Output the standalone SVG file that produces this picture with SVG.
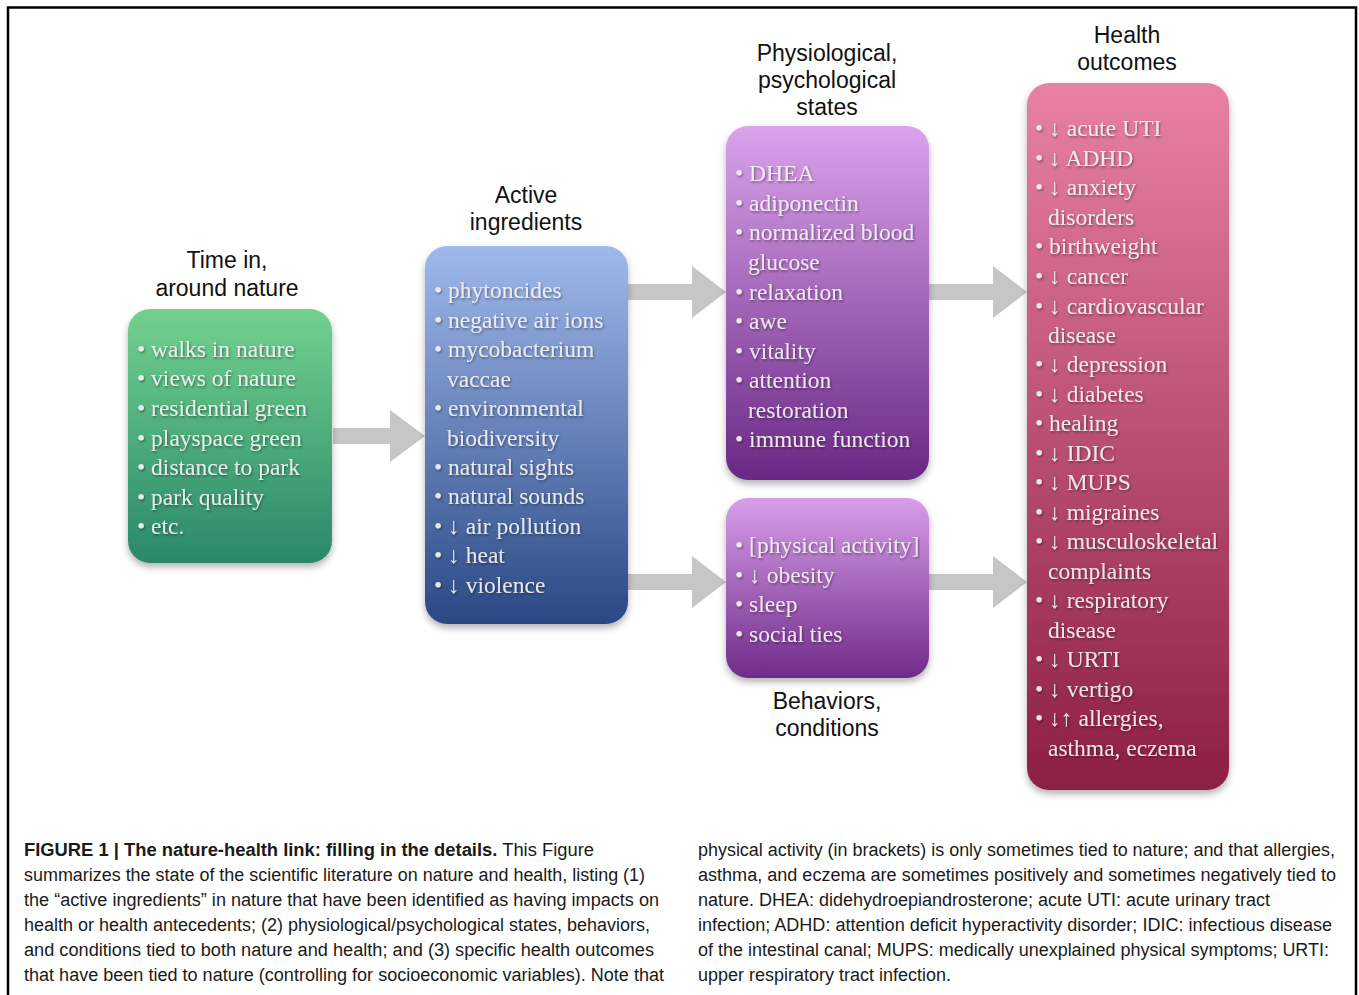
<svg xmlns="http://www.w3.org/2000/svg" width="1359" height="995" viewBox="0 0 1359 995">
<style>
.title{font-family:"Liberation Sans",Arial,sans-serif;font-size:23px;fill:#111;text-anchor:middle}
.item{font-family:"Liberation Serif","Times New Roman",serif;font-size:23.5px;fill:#f4f2f4;fill-opacity:0.92;filter:url(#ts)}
.cap{font-family:"Liberation Sans",Arial,sans-serif;font-size:18px;fill:#1a1a1a}
.arrow{fill:#c6c6c6}
</style>
<defs>
<filter id="bs" x="-20%" y="-20%" width="140%" height="140%">
<feDropShadow dx="0" dy="4" stdDeviation="3.5" flood-color="#000" flood-opacity="0.3"/>
</filter>
<filter id="ts" x="-10%" y="-30%" width="120%" height="160%">
<feDropShadow dx="1" dy="1.5" stdDeviation="1" flood-color="#000" flood-opacity="0.45"/>
</filter>
<linearGradient id="gGreen" x1="0" y1="0" x2="0" y2="1">
<stop offset="0" stop-color="#72d18f"/><stop offset="1" stop-color="#2a8869"/>
</linearGradient>
<linearGradient id="gBlue" x1="0" y1="0" x2="0" y2="1">
<stop offset="0" stop-color="#a0b9ec"/><stop offset="1" stop-color="#2a4984"/>
</linearGradient>
<linearGradient id="gPurple" x1="0" y1="0" x2="0" y2="1">
<stop offset="0" stop-color="#daa3ec"/><stop offset="1" stop-color="#6a2884"/>
</linearGradient>
<linearGradient id="gPurple2" x1="0" y1="0" x2="0" y2="1">
<stop offset="0" stop-color="#d89ee9"/><stop offset="1" stop-color="#702b89"/>
</linearGradient>
<linearGradient id="gPink" x1="0" y1="0" x2="0" y2="1">
<stop offset="0" stop-color="#e881a2"/><stop offset="1" stop-color="#8c1f41"/>
</linearGradient>
</defs>
<rect width="1359" height="995" fill="#fff"/>
<path d="M8,995 V7.5 H1356 V995" fill="none" stroke="#000" stroke-width="2.5"/>

<g id="connectors">
<polygon class="arrow" points="333,428 390,428 390,410 425,436 390,462 390,444 333,444"/>
<polygon class="arrow" points="628,284 692,284 692,266 726,292 692,318 692,300 628,300"/>
<polygon class="arrow" points="628,574 692,574 692,556 726,582 692,608 692,590 628,590"/>
<polygon class="arrow" points="929,284 993,284 993,266 1027,292 993,318 993,300 929,300"/>
<polygon class="arrow" points="929,574 993,574 993,556 1027,582 993,608 993,590 929,590"/>
</g>

<g id="time-in-nature">
<text class="title" x="227" y="268">Time in,</text>
<text class="title" x="227" y="296">around nature</text>
<rect x="128" y="309" width="204" height="254" rx="22" fill="url(#gGreen)" filter="url(#bs)"/>
<text class="item" x="137" y="357">• walks in nature</text>
<text class="item" x="137" y="386">• views of nature</text>
<text class="item" x="137" y="416">• residential green</text>
<text class="item" x="137" y="446">• playspace green</text>
<text class="item" x="137" y="475">• distance to park</text>
<text class="item" x="137" y="505">• park quality</text>
<text class="item" x="137" y="534">• etc.</text>
</g>

<g id="active-ingredients">
<text class="title" x="526" y="203">Active</text>
<text class="title" x="526" y="230">ingredients</text>
<rect x="425" y="246" width="203" height="378" rx="22" fill="url(#gBlue)" filter="url(#bs)"/>
<text class="item" x="434" y="298">• phytoncides</text>
<text class="item" x="434" y="328">• negative air ions</text>
<text class="item" x="434" y="357">• mycobacterium</text>
<text class="item" x="447" y="387">vaccae</text>
<text class="item" x="434" y="416">• environmental</text>
<text class="item" x="447" y="446">biodiversity</text>
<text class="item" x="434" y="475">• natural sights</text>
<text class="item" x="434" y="504">• natural sounds</text>
<text class="item" x="434" y="534">• ↓ air pollution</text>
<text class="item" x="434" y="563">• ↓ heat</text>
<text class="item" x="434" y="593">• ↓ violence</text>
</g>

<g id="physiological-states">
<text class="title" x="827" y="61">Physiological,</text>
<text class="title" x="827" y="88">psychological</text>
<text class="title" x="827" y="115">states</text>
<rect x="726" y="126" width="203" height="354" rx="22" fill="url(#gPurple)" filter="url(#bs)"/>
<text class="item" x="735" y="181">• DHEA</text>
<text class="item" x="735" y="211">• adiponectin</text>
<text class="item" x="735" y="240">• normalized blood</text>
<text class="item" x="748" y="270">glucose</text>
<text class="item" x="735" y="300">• relaxation</text>
<text class="item" x="735" y="329">• awe</text>
<text class="item" x="735" y="359">• vitality</text>
<text class="item" x="735" y="388">• attention</text>
<text class="item" x="748" y="418">restoration</text>
<text class="item" x="735" y="447">• immune function</text>
</g>

<g id="behaviors-conditions">
<rect x="726" y="498" width="203" height="180" rx="22" fill="url(#gPurple2)" filter="url(#bs)"/>
<text class="item" x="735" y="553">• [physical activity]</text>
<text class="item" x="735" y="583">• ↓ obesity</text>
<text class="item" x="735" y="612">• sleep</text>
<text class="item" x="735" y="642">• social ties</text>
<text class="title" x="827" y="709">Behaviors,</text>
<text class="title" x="827" y="736">conditions</text>
</g>

<g id="health-outcomes">
<text class="title" x="1127" y="43">Health</text>
<text class="title" x="1127" y="70">outcomes</text>
<rect x="1027" y="83" width="202" height="707" rx="22" fill="url(#gPink)" filter="url(#bs)"/>
<text class="item" x="1035" y="136">• ↓ acute UTI</text>
<text class="item" x="1035" y="166">• ↓ ADHD</text>
<text class="item" x="1035" y="195">• ↓ anxiety</text>
<text class="item" x="1048" y="225">disorders</text>
<text class="item" x="1035" y="254">• birthweight</text>
<text class="item" x="1035" y="284">• ↓ cancer</text>
<text class="item" x="1035" y="314">• ↓ cardiovascular</text>
<text class="item" x="1048" y="343">disease</text>
<text class="item" x="1035" y="372">• ↓ depression</text>
<text class="item" x="1035" y="402">• ↓ diabetes</text>
<text class="item" x="1035" y="431">• healing</text>
<text class="item" x="1035" y="461">• ↓ IDIC</text>
<text class="item" x="1035" y="490">• ↓ MUPS</text>
<text class="item" x="1035" y="520">• ↓ migraines</text>
<text class="item" x="1035" y="549">• ↓ musculoskeletal</text>
<text class="item" x="1048" y="579">complaints</text>
<text class="item" x="1035" y="608">• ↓ respiratory</text>
<text class="item" x="1048" y="638">disease</text>
<text class="item" x="1035" y="667">• ↓ URTI</text>
<text class="item" x="1035" y="697">• ↓ vertigo</text>
<text class="item" x="1035" y="726">• ↓↑ allergies,</text>
<text class="item" x="1048" y="756">asthma, eczema</text>
</g>

<g id="caption">
<text class="cap" x="24" y="856" textLength="570" lengthAdjust="spacingAndGlyphs"><tspan font-weight="bold">FIGURE 1 | The nature-health link: filling in the details.</tspan> This Figure</text>
<text class="cap" x="24" y="881" textLength="621" lengthAdjust="spacingAndGlyphs">summarizes the state of the scientific literature on nature and health, listing (1)</text>
<text class="cap" x="24" y="906" textLength="635" lengthAdjust="spacingAndGlyphs">the “active ingredients” in nature that have been identified as having impacts on</text>
<text class="cap" x="24" y="931" textLength="626" lengthAdjust="spacingAndGlyphs">health or health antecedents; (2) physiological/psychological states, behaviors,</text>
<text class="cap" x="24" y="956" textLength="630" lengthAdjust="spacingAndGlyphs">and conditions tied to both nature and health; and (3) specific health outcomes</text>
<text class="cap" x="24" y="981" textLength="640" lengthAdjust="spacingAndGlyphs">that have been tied to nature (controlling for socioeconomic variables). Note that</text>
<text class="cap" x="698" y="856" textLength="637" lengthAdjust="spacingAndGlyphs">physical activity (in brackets) is only sometimes tied to nature; and that allergies,</text>
<text class="cap" x="698" y="881" textLength="638" lengthAdjust="spacingAndGlyphs">asthma, and eczema are sometimes positively and sometimes negatively tied to</text>
<text class="cap" x="698" y="906" textLength="572" lengthAdjust="spacingAndGlyphs">nature. DHEA: didehydroepiandrosterone; acute UTI: acute urinary tract</text>
<text class="cap" x="698" y="931" textLength="634" lengthAdjust="spacingAndGlyphs">infection; ADHD: attention deficit hyperactivity disorder; IDIC: infectious disease</text>
<text class="cap" x="698" y="956" textLength="631" lengthAdjust="spacingAndGlyphs">of the intestinal canal; MUPS: medically unexplained physical symptoms; URTI:</text>
<text class="cap" x="698" y="981" textLength="253" lengthAdjust="spacingAndGlyphs">upper respiratory tract infection.</text>
</g>
</svg>
